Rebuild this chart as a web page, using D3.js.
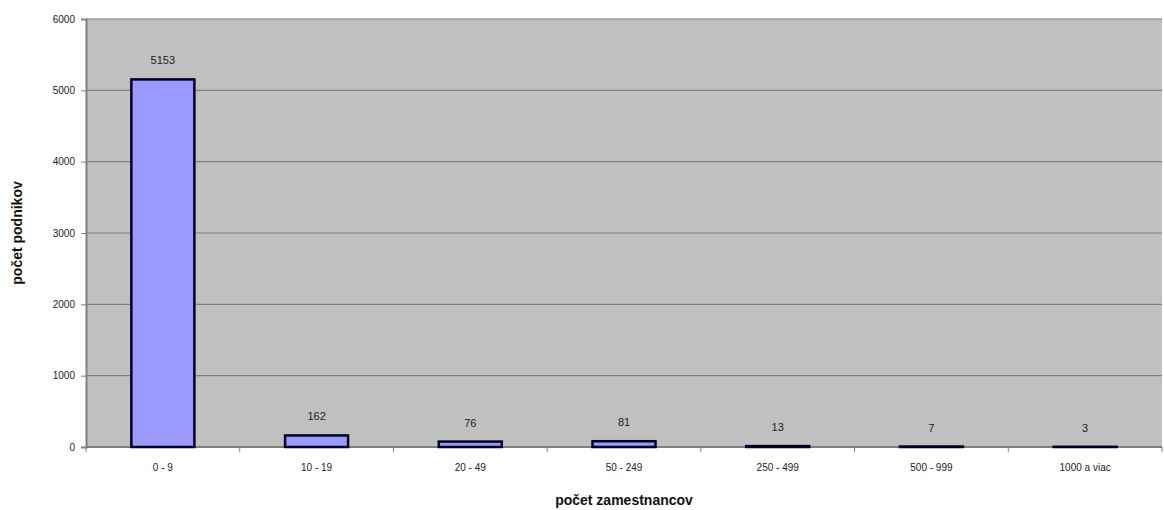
<!DOCTYPE html>
<html>
<head>
<meta charset="utf-8">
<script src="https://cdn.jsdelivr.net/npm/d3@7/dist/d3.min.js"></script>
<style>
  html, body { margin: 0; padding: 0; background: #fff; }
  svg { display: block; }
  text { font-family: Arial, "Liberation Sans", sans-serif; }
</style>
</head>
<body>
<svg id="chart" width="1164" height="510"></svg>
<script>
// Number of enterprises by employee-count band
const categories = ["0 - 9", "10 - 19", "20 - 49", "50 - 249", "250 - 499", "500 - 999", "1000 a viac"];
const values = [5153, 162, 76, 81, 13, 7, 3];
const yTicks = [0, 1000, 2000, 3000, 4000, 5000, 6000];

const svg = d3.select("#chart");
const margin = { left: 86, right: 2, top: 19, bottom: 63 };
const W = 1164, H = 510;
const plotW = W - margin.left - margin.right;
const plotH = H - margin.top - margin.bottom;

const g = svg.append("g").attr("transform", `translate(${margin.left},${margin.top})`);

const x = d3.scaleBand().domain(categories).range([0, plotW]).paddingInner(0.59).paddingOuter(0.295);
const y = d3.scaleLinear().domain([0, 6000]).range([plotH, 0]);

// plot background
g.append("rect").attr("width", plotW).attr("height", plotH).attr("fill", "#c0c0c0");

// horizontal gridlines
g.selectAll("line.grid").data(yTicks.filter(d => d > 0)).enter().append("line")
  .attr("class", "grid")
  .attr("x1", 0).attr("x2", plotW)
  .attr("y1", d => y(d)).attr("y2", d => y(d))
  .attr("stroke", "#7f7f7f").attr("stroke-width", 1.2);

// y axis
const yAxis = g.append("g").call(d3.axisLeft(y).tickValues(yTicks).tickFormat(d3.format("d")).tickSize(5).tickPadding(6));
yAxis.select(".domain").attr("stroke", "#7f7f7f").attr("stroke-width", 2);
yAxis.selectAll(".tick line").attr("stroke", "#7f7f7f");
yAxis.selectAll("text").attr("font-size", 10).attr("fill", "#222").attr("font-family", "Arial, Liberation Sans, sans-serif");

// x axis with ticks between categories
const xAxisG = g.append("g").attr("transform", `translate(0,${plotH})`);
xAxisG.append("line").attr("x1", 0).attr("x2", plotW).attr("stroke", "#7f7f7f").attr("stroke-width", 2);
const boundaries = d3.range(0, categories.length + 1).map(i => i * plotW / categories.length);
xAxisG.selectAll("line.tk").data(boundaries).enter().append("line")
  .attr("class", "tk")
  .attr("x1", d => d).attr("x2", d => d).attr("y1", 0).attr("y2", 5)
  .attr("stroke", "#7f7f7f");
xAxisG.selectAll("text.cat").data(categories).enter().append("text")
  .attr("class", "cat")
  .attr("x", d => x(d) + x.bandwidth() / 2)
  .attr("y", 24)
  .attr("text-anchor", "middle")
  .attr("font-size", 10).attr("fill", "#222")
  .text(d => d);

// bars
g.selectAll("rect.bar").data(values).enter().append("rect")
  .attr("class", "bar")
  .attr("x", (d, i) => x(categories[i]))
  .attr("y", d => y(d))
  .attr("width", x.bandwidth())
  .attr("height", d => plotH - y(d))
  .attr("fill", "#9999ff")
  .attr("stroke", "#000022").attr("stroke-width", 2.5);

// value labels
g.selectAll("text.val").data(values).enter().append("text")
  .attr("class", "val")
  .attr("x", (d, i) => x(categories[i]) + x.bandwidth() / 2)
  .attr("y", d => y(d) - 15)
  .attr("text-anchor", "middle")
  .attr("font-size", 11).attr("fill", "#222")
  .text(d => d);

// axis titles
svg.append("text")
  .attr("x", margin.left + plotW / 2).attr("y", 505)
  .attr("text-anchor", "middle")
  .attr("font-size", 14).attr("font-weight", "bold").attr("fill", "#111")
  .text("počet zamestnancov");

svg.append("text")
  .attr("transform", `translate(22,${margin.top + plotH / 2}) rotate(-90)`)
  .attr("text-anchor", "middle")
  .attr("font-size", 14).attr("font-weight", "bold").attr("fill", "#111")
  .text("počet podnikov");
</script>
</body>
</html>
